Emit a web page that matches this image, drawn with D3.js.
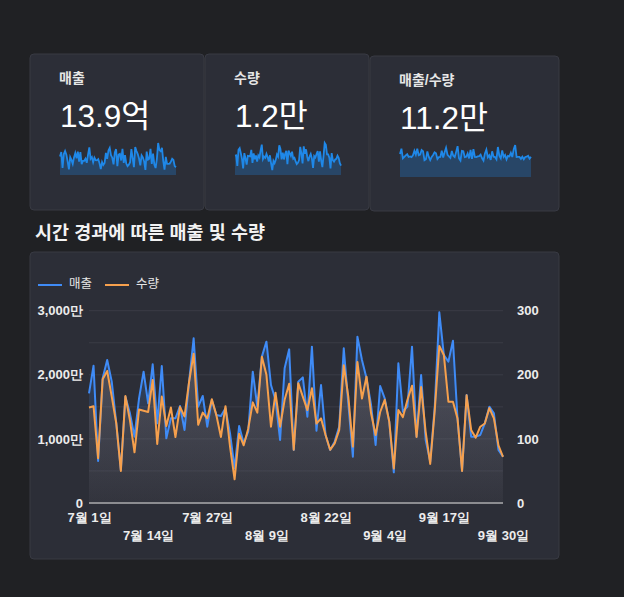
<!DOCTYPE html>
<html>
<head>
<meta charset="utf-8">
<script src="https://cdn.jsdelivr.net/npm/d3@7"></script>
<style>
  body { margin: 0; background: #202124; }
  svg { display: block; font-family: "Liberation Sans", "Noto Sans CJK KR", sans-serif; }
</style>
</head>
<body>
<div id="chart"></div>
<script>
// 일별 매출 (만원) / 수량, 7월 1일 ~ 9월 30일
const sales = [
  1711, 2142, 655, 1945, 2231, 1893, 1243, 515, 1659, 1399,
  1035, 1633, 2049, 1555, 2163, 1243, 2137, 1009, 1321, 1321,
  1513, 1139, 1893, 2569, 1503, 1669, 1191, 1607, 1373, 1357,
  1477, 1087, 541, 1201, 931, 1113, 2049, 1503, 2283, 2517,
  1841, 1607, 983, 2101, 2397, 827, 1893, 1960, 1347, 2439,
  1128, 1841, 1061, 827, 957, 1191, 2413, 1555, 723, 2595,
  2231, 1945, 1529, 905, 1825, 1633, 1269, 478, 2179, 1425,
  1503, 2439, 1035, 1997, 983, 645, 1503, 2974, 2309, 2205,
  2532, 1321, 504, 1685, 1035, 1035, 1061, 1243, 1503, 1399,
  827, 723
];
const qty = [
  149, 151, 70, 193, 206, 166, 124, 50, 167, 129,
  79, 146, 144, 142, 192, 92, 166, 120, 149, 103,
  150, 135, 189, 233, 122, 141, 132, 162, 137, 103,
  151, 88, 37, 108, 90, 116, 157, 141, 228, 200,
  119, 172, 119, 161, 186, 83, 187, 166, 145, 179,
  124, 132, 106, 83, 93, 114, 215, 166, 88, 220,
  163, 197, 140, 106, 142, 161, 127, 54, 145, 134,
  161, 183, 103, 181, 111, 61, 145, 245, 231, 158,
  158, 132, 50, 168, 114, 102, 119, 124, 148, 132,
  90, 72
];
const tickDays = ["2024-07-01", "2024-07-14", "2024-07-27", "2024-08-09",
                  "2024-08-22", "2024-09-04", "2024-09-17", "2024-09-30"];
const leftTicks = [0, 1000, 2000, 3000];
const rightTicks = [0, 100, 200, 300];
const seriesNames = ["매출", "수량"];
const kpiTitles = ["매출", "수량", "매출/수량"];
const kpiValues = ["13.9억", "1.2만", "11.2만"];

const width = 624, height = 597;
const blue = "#3f8bf6", orange = "#f6a04d", sparkBlue = "#1f88e8";

const dates = d3.timeDay.range(new Date(2024, 6, 1), new Date(2024, 9, 1));
const ratio = sales.map((s, i) => s / qty[i]);
const sparkSeries = [sales, qty, ratio];

const svg = d3.select("#chart")
  .append("svg")
    .attr("width", width)
    .attr("height", height);

const defs = svg.append("defs");
[["grad-blue", blue, 0.26], ["grad-orange", orange, 0.2]].forEach(([id, color, op]) => {
  const g = defs.append("linearGradient")
    .attr("id", id)
    .attr("gradientUnits", "userSpaceOnUse")
    .attr("x1", 0).attr("x2", 0)
    .attr("y1", 310).attr("y2", 503);
  g.append("stop").attr("offset", 0).attr("stop-color", color).attr("stop-opacity", op);
  g.append("stop").attr("offset", 1).attr("stop-color", color).attr("stop-opacity", 0.03);
});

// KPI cards
const cards = [
  { x: 30, y: 54, w: 174, h: 156 },
  { x: 205, y: 54, w: 164, h: 156 },
  { x: 370, y: 56, w: 189, h: 155 }
];

cards.forEach((c, k) => {
  const card = svg.append("g").attr("transform", `translate(${c.x}, ${c.y})`);
  card.append("rect")
    .attr("width", c.w)
    .attr("height", c.h)
    .attr("rx", 4)
    .attr("fill", "#2c2e37")
    .attr("stroke", "#383a43");
  card.append("text")
    .text(kpiTitles[k])
    .attr("x", 29)
    .attr("y", 29)
    .style("font-size", "14px")
    .style("font-weight", 700)
    .style("fill", "#e6e6e6");
  card.append("text")
    .text(kpiValues[k])
    .attr("x", 30)
    .attr("y", 73)
    .style("font-size", "31.5px")
    .style("fill", "#ffffff");

  const data = sparkSeries[k];
  const sx = d3.scaleLinear().domain([0, data.length - 1]).range([30, c.w - 28]);
  const sy = d3.scaleLinear().domain([0, d3.max(data)]).range([121, 89]);
  card.append("path")
    .attr("d", d3.area().x((d, i) => sx(i)).y0(121).y1(d => sy(d))(data))
    .attr("fill", sparkBlue)
    .attr("fill-opacity", 0.27);
  card.append("path")
    .attr("d", d3.line().x((d, i) => sx(i)).y(d => sy(d))(data))
    .attr("fill", "none")
    .attr("stroke", sparkBlue)
    .attr("stroke-width", 1.8);
});

// Chart title
svg.append("text")
  .text("시간 경과에 따른 매출 및 수량")
  .attr("x", 35)
  .attr("y", 239)
  .style("font-size", "18.5px")
  .style("font-weight", 700)
  .style("fill", "#f2f2f2");

// Chart card
svg.append("rect")
  .attr("x", 30).attr("y", 252)
  .attr("width", 529).attr("height", 307)
  .attr("rx", 4)
  .attr("fill", "#2c2e37")
  .attr("stroke", "#383a43");

// Legend
const legend = svg.append("g").attr("transform", "translate(38, 285)");
[blue, orange].forEach((color, i) => {
  const item = legend.append("g").attr("transform", `translate(${i * 67}, 0)`);
  item.append("line")
    .attr("x1", 0).attr("x2", 24)
    .attr("stroke", color)
    .attr("stroke-width", 2);
  item.append("text")
    .text(seriesNames[i])
    .attr("x", 31)
    .attr("dominant-baseline", "middle")
    .style("font-size", "12.5px")
    .style("fill", "#e6e6e6");
});

// Scales
const x = d3.scaleTime().domain(d3.extent(dates)).range([89, 503]);
const yLeft = d3.scaleLinear().domain([0, 3000]).range([503, 310.7]);
const yRight = d3.scaleLinear().domain([0, 300]).range([503, 310.7]);

// Grid lines
svg.append("g")
  .selectAll("line")
  .data(d3.range(500, 3001, 500))
  .join("line")
    .attr("x1", 89).attr("x2", 503)
    .attr("y1", d => yLeft(d)).attr("y2", d => yLeft(d))
    .attr("stroke", "#3a3c46")
    .attr("stroke-width", 1);

// Areas
svg.append("path")
  .attr("d", d3.area().x((d, i) => x(dates[i])).y0(503).y1(d => yLeft(d))(sales))
  .attr("fill", "url(#grad-blue)");
svg.append("path")
  .attr("d", d3.area().x((d, i) => x(dates[i])).y0(503).y1(d => yRight(d))(qty))
  .attr("fill", "url(#grad-orange)");

// Lines
svg.append("path")
  .attr("d", d3.line().x((d, i) => x(dates[i])).y(d => yLeft(d))(sales))
  .attr("fill", "none")
  .attr("stroke", blue)
  .attr("stroke-width", 2)
  .attr("stroke-linejoin", "round");
svg.append("path")
  .attr("d", d3.line().x((d, i) => x(dates[i])).y(d => yRight(d))(qty))
  .attr("fill", "none")
  .attr("stroke", orange)
  .attr("stroke-width", 2)
  .attr("stroke-linejoin", "round");

// Baseline
svg.append("line")
  .attr("x1", 89).attr("x2", 503)
  .attr("y1", 503).attr("y2", 503)
  .attr("stroke", "#8c8c90")
  .attr("stroke-width", 2);

// Axes
const styleAxis = g => {
  g.select(".domain").remove();
  g.selectAll("text")
    .style("font-size", "13px")
    .style("font-weight", 600)
    .style("fill", "#ececec");
};

svg.append("g")
  .attr("transform", "translate(89, 0)")
  .call(d3.axisLeft(yLeft).tickValues(leftTicks).tickSize(0).tickPadding(6)
    .tickFormat(d => d === 0 ? "0" : d3.format(",")(d) + "만"))
  .call(styleAxis);

svg.append("g")
  .attr("transform", "translate(503, 0)")
  .call(d3.axisRight(yRight).tickValues(rightTicks).tickSize(0).tickPadding(14))
  .call(styleAxis);

const parseDay = d3.timeParse("%Y-%m-%d");
svg.append("g")
  .attr("transform", "translate(0, 503)")
  .call(d3.axisBottom(x).tickValues(tickDays.map(parseDay)).tickSize(0)
    .tickFormat(d3.timeFormat("%-m월 %-d일")))
  .call(styleAxis)
  .call(g => g.selectAll("text")
    .attr("dy", null)
    .attr("y", (d, i) => i % 2 === 0 ? 19 : 37));
</script>
</body>
</html>
